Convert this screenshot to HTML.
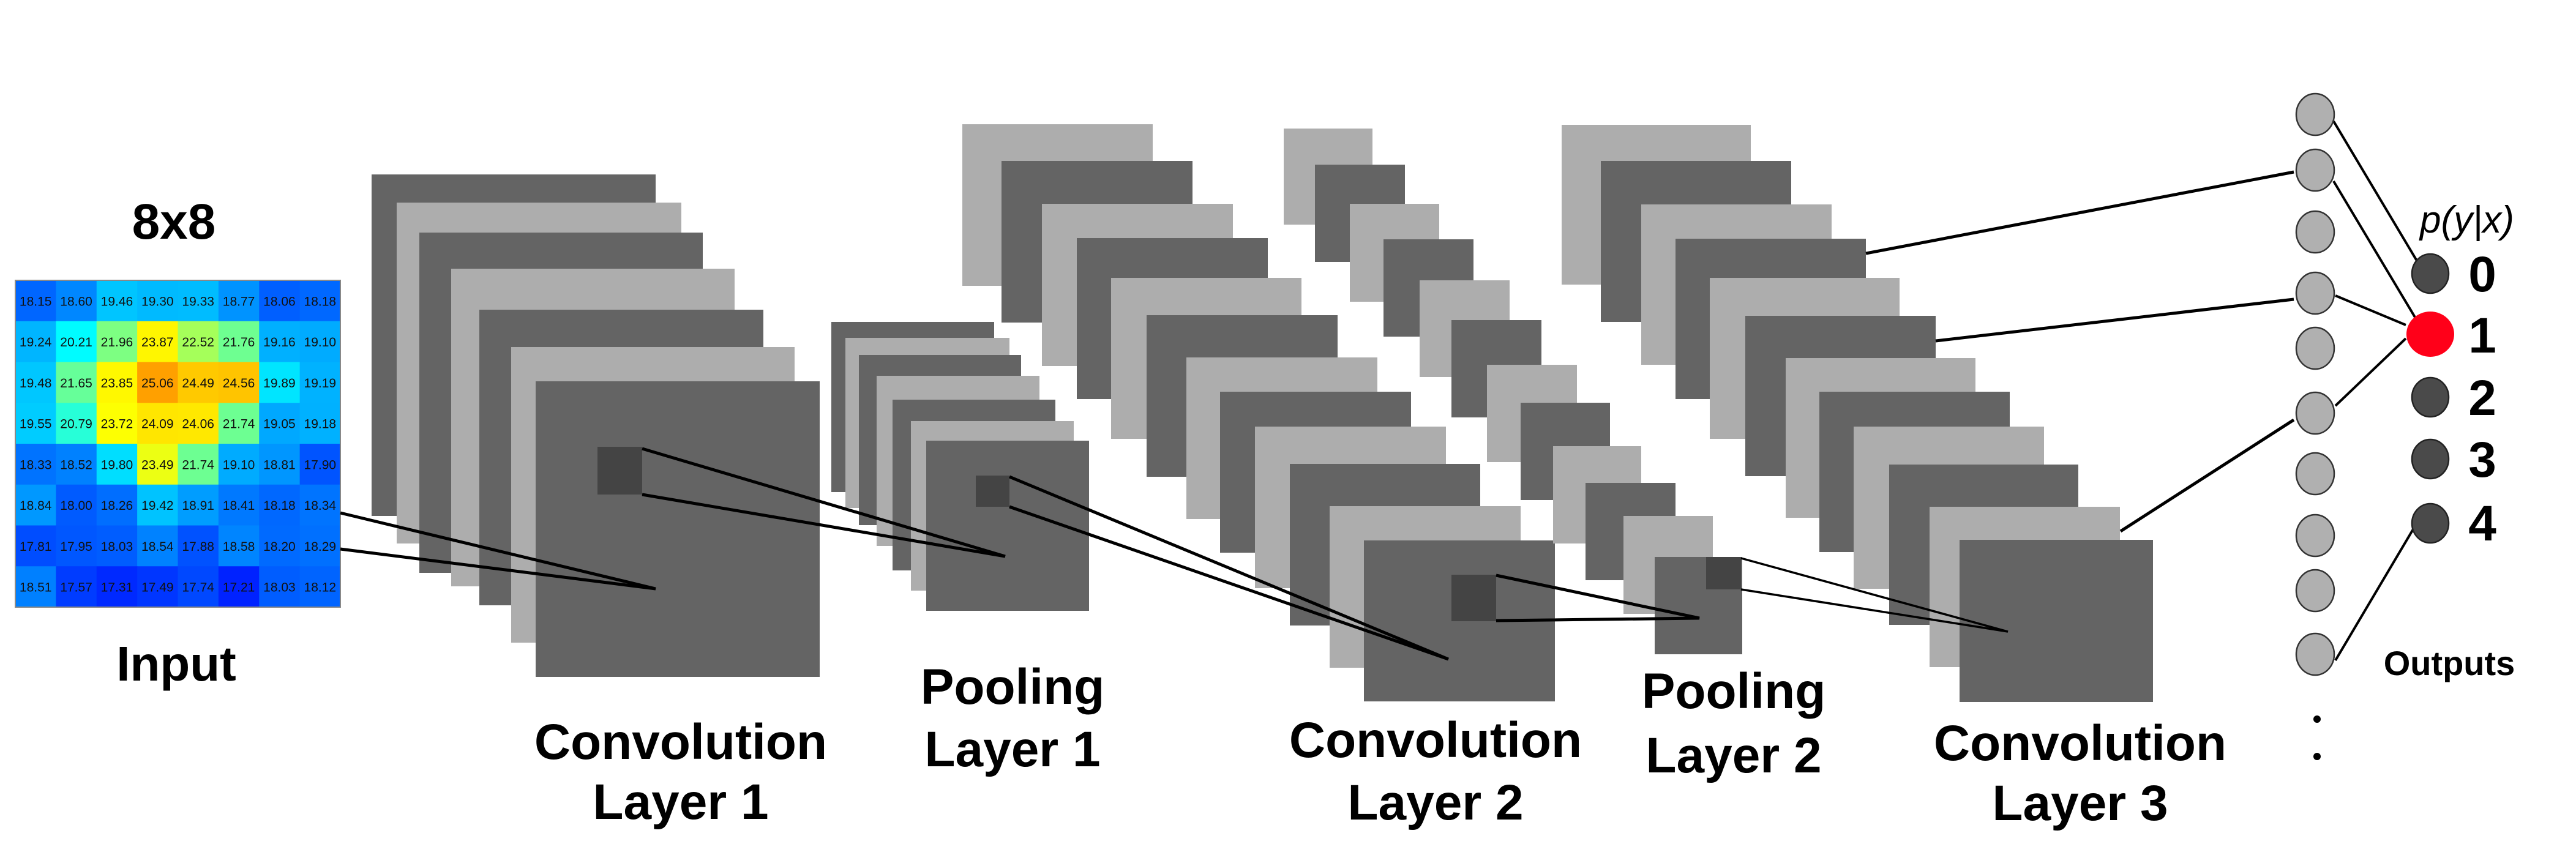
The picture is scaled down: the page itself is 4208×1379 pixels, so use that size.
<!DOCTYPE html>
<html><head><meta charset="utf-8"><style>
html,body{margin:0;padding:0;background:#fff;}
svg{display:block;}
.d{fill:#646464}.l{fill:#adadad}.s{fill:#444}
.lab{font-family:"Liberation Sans",sans-serif;font-weight:bold;font-size:82px;fill:#000;text-anchor:middle;}
.cell{font-family:"Liberation Sans",sans-serif;font-size:21px;fill:#111;text-anchor:middle;}
.ln{stroke:#000;stroke-width:5;fill:none;}
.fc{fill:#b0b0b0;stroke:#333;stroke-width:2.5}
.on{fill:#4a4a4a;stroke:#222;stroke-width:2.5}
</style></head><body>
<svg width="4208" height="1379" viewBox="0 0 4208 1379" xmlns="http://www.w3.org/2000/svg">
<g id="grid" transform="translate(25,458)">
<rect x="0" y="0" width="531" height="534" fill="#0060ff"/>
</g>
<rect x="25" y="458" width="531" height="534" fill="none" stroke="#888" stroke-width="2"/>
<text class="lab" x="284" y="390">8x8</text>
<text class="lab" x="288" y="1112" style="font-size:80px">Input</text>

<rect class="d" x="607" y="285" width="464" height="558"/>
<rect class="l" x="648" y="331" width="465" height="557"/>
<rect class="d" x="685" y="380" width="463" height="556"/>
<rect class="l" x="737" y="439" width="463" height="519"/>
<rect class="d" x="783" y="506" width="464" height="483"/>
<rect class="l" x="835" y="567" width="463" height="483"/>
<rect class="d" x="875" y="623" width="464" height="483"/>
<rect class="s" x="976" y="730" width="73" height="78"/>

<rect class="d" x="1358" y="526" width="266" height="278"/>
<rect class="l" x="1381" y="552" width="268" height="278"/>
<rect class="d" x="1403" y="580" width="265" height="278"/>
<rect class="l" x="1432" y="614" width="266" height="278"/>
<rect class="d" x="1458" y="653" width="266" height="279"/>
<rect class="l" x="1488" y="688" width="266" height="277"/>
<rect class="d" x="1513" y="720" width="266" height="278"/>
<rect class="s" x="1594" y="777" width="55" height="51"/>

<rect class="l" x="1572" y="203" width="311" height="264"/>
<rect class="d" x="1636" y="263" width="312" height="264"/>
<rect class="l" x="1702" y="333" width="312" height="265"/>
<rect class="d" x="1759" y="389" width="312" height="263"/>
<rect class="l" x="1815" y="454" width="311" height="263"/>
<rect class="d" x="1873" y="515" width="312" height="264"/>
<rect class="l" x="1938" y="584" width="312" height="264"/>
<rect class="d" x="1993" y="640" width="312" height="263"/>
<rect class="l" x="2050" y="697" width="312" height="264"/>
<rect class="d" x="2107" y="758" width="311" height="264"/>
<rect class="l" x="2172" y="827" width="312" height="264"/>
<rect class="d" x="2228" y="883" width="312" height="263"/>
<rect class="s" x="2371" y="939" width="73" height="76"/>

<rect class="l" x="2097" y="210" width="145" height="157"/>
<rect class="d" x="2148" y="269" width="147" height="159"/>
<rect class="l" x="2205" y="333" width="146" height="160"/>
<rect class="d" x="2260" y="391" width="147" height="159"/>
<rect class="l" x="2319" y="458" width="147" height="158"/>
<rect class="d" x="2371" y="523" width="147" height="159"/>
<rect class="l" x="2429" y="596" width="147" height="159"/>
<rect class="d" x="2484" y="658" width="146" height="159"/>
<rect class="l" x="2537" y="729" width="144" height="159"/>
<rect class="d" x="2590" y="789" width="147" height="159"/>
<rect class="l" x="2652" y="843" width="146" height="160"/>
<rect class="d" x="2703" y="910" width="143" height="159"/>
<rect class="s" x="2787" y="910" width="57" height="53"/>

<rect class="l" x="2551" y="204" width="309" height="261"/>
<rect class="d" x="2615" y="263" width="311" height="263"/>
<rect class="l" x="2681" y="334" width="311" height="262"/>
<rect class="d" x="2737" y="390" width="311" height="262"/>
<rect class="l" x="2793" y="454" width="310" height="263"/>
<rect class="d" x="2851" y="516" width="311" height="262"/>
<rect class="l" x="2917" y="585" width="310" height="261"/>
<rect class="d" x="2972" y="640" width="311" height="262"/>
<rect class="l" x="3028" y="697" width="311" height="265"/>
<rect class="d" x="3086" y="759" width="309" height="262"/>
<rect class="l" x="3152" y="828" width="311" height="262"/>
<rect class="d" x="3201" y="882" width="316" height="265"/>

<polyline class="ln" points="556,838 1071,962 556,897"/>
<polyline class="ln" points="1049,733 1642,909 1049,808"/>
<polyline class="ln" points="1649,779 2366,1077 1649,828"/>
<polyline class="ln" points="2444,940 2776,1010 2444,1014"/>
<polyline class="ln" points="2844,912 3280,1032 2844,963" style="stroke-width:3.5"/>
<line class="ln" x1="3048" y1="414" x2="3747" y2="281"/>
<line class="ln" x1="3162" y1="557" x2="3747" y2="489"/>
<line class="ln" x1="3464" y1="868" x2="3747" y2="686"/>
<line class="ln" x1="3812" y1="198" x2="3948" y2="426" style="stroke-width:4"/>
<line class="ln" x1="3812" y1="296" x2="3946" y2="520" style="stroke-width:4"/>
<line class="ln" x1="3815" y1="483" x2="3930" y2="531" style="stroke-width:4"/>
<line class="ln" x1="3815" y1="663" x2="3930" y2="553" style="stroke-width:4"/>
<line class="ln" x1="3815" y1="1079" x2="3943" y2="863" style="stroke-width:4"/>

<ellipse class="fc" cx="3782" cy="187" rx="31" ry="34"/>
<ellipse class="fc" cx="3782" cy="278" rx="31" ry="34"/>
<ellipse class="fc" cx="3782" cy="379" rx="31" ry="34"/>
<ellipse class="fc" cx="3782" cy="479" rx="31" ry="34"/>
<ellipse class="fc" cx="3782" cy="569" rx="31" ry="34"/>
<ellipse class="fc" cx="3782" cy="675" rx="31" ry="34"/>
<ellipse class="fc" cx="3782" cy="774" rx="31" ry="34"/>
<ellipse class="fc" cx="3782" cy="875" rx="31" ry="34"/>
<ellipse class="fc" cx="3782" cy="965" rx="31" ry="34"/>
<ellipse class="fc" cx="3782" cy="1069" rx="31" ry="34"/>
<circle cx="3785" cy="1175" r="6" fill="#000"/>
<circle cx="3785" cy="1236" r="6" fill="#000"/>

<ellipse class="on" cx="3970" cy="447" rx="30" ry="32"/>
<ellipse cx="3970" cy="546" rx="39" ry="37" fill="#ff0019"/>
<ellipse class="on" cx="3970" cy="649" rx="30" ry="32"/>
<ellipse class="on" cx="3970" cy="750" rx="30" ry="32"/>
<ellipse class="on" cx="3970" cy="855" rx="30" ry="32"/>
<text class="lab" x="4055" y="476">0</text>
<text class="lab" x="4055" y="576">1</text>
<text class="lab" x="4055" y="678">2</text>
<text class="lab" x="4055" y="779">3</text>
<text class="lab" x="4055" y="883">4</text>
<text x="4030" y="380" style="font-family:'Liberation Sans',sans-serif;font-style:italic;font-size:62px;text-anchor:middle">p(y|x)</text>
<text class="lab" x="4001" y="1103" style="font-size:56px">Outputs</text>

<text class="lab" x="1112" y="1240">Convolution</text>
<text class="lab" x="1112" y="1338">Layer 1</text>
<text class="lab" x="1654" y="1150">Pooling</text>
<text class="lab" x="1654" y="1252">Layer 1</text>
<text class="lab" x="2345" y="1237">Convolution</text>
<text class="lab" x="2345" y="1339">Layer 2</text>
<text class="lab" x="2832" y="1157">Pooling</text>
<text class="lab" x="2832" y="1262">Layer 2</text>
<text class="lab" x="3398" y="1242">Convolution</text>
<text class="lab" x="3398" y="1340">Layer 3</text>
</svg>
<script>
(function(){
var vals=[
["18.15","18.60","19.46","19.30","19.33","18.77","18.06","18.18"],
["19.24","20.21","21.96","23.87","22.52","21.76","19.16","19.10"],
["19.48","21.65","23.85","25.06","24.49","24.56","19.89","19.19"],
["19.55","20.79","23.72","24.09","24.06","21.74","19.05","19.18"],
["18.33","18.52","19.80","23.49","21.74","19.10","18.81","17.90"],
["18.84","18.00","18.26","19.42","18.91","18.41","18.18","18.34"],
["17.81","17.95","18.03","18.54","17.88","18.58","18.20","18.29"],
["18.51","17.57","17.31","17.49","17.74","17.21","18.03","18.12"]];
function cl(x){return Math.max(0,Math.min(1,x));}
var g=document.getElementById('grid'),NS="http://www.w3.org/2000/svg";
var cw=531/8,ch=534/8;
for(var r=0;r<8;r++)for(var c=0;c<8;c++){
 var v=parseFloat(vals[r][c]),t=(v-15)/14;
 var R=cl(1.5-Math.abs(4*t-3)),G=cl(1.5-Math.abs(4*t-2)),B=cl(1.5-Math.abs(4*t-1));
 var rc=document.createElementNS(NS,'rect');
 rc.setAttribute('x',c*cw);rc.setAttribute('y',r*ch);rc.setAttribute('width',cw+0.6);rc.setAttribute('height',ch+0.6);
 rc.setAttribute('fill','rgb('+Math.round(R*255)+','+Math.round(G*255)+','+Math.round(B*255)+')');
 g.appendChild(rc);
 var tx=document.createElementNS(NS,'text');
 tx.setAttribute('class','cell');tx.setAttribute('x',c*cw+cw/2);tx.setAttribute('y',r*ch+ch/2+8);
 tx.textContent=vals[r][c];g.appendChild(tx);
}
})();
</script>
</body></html>
